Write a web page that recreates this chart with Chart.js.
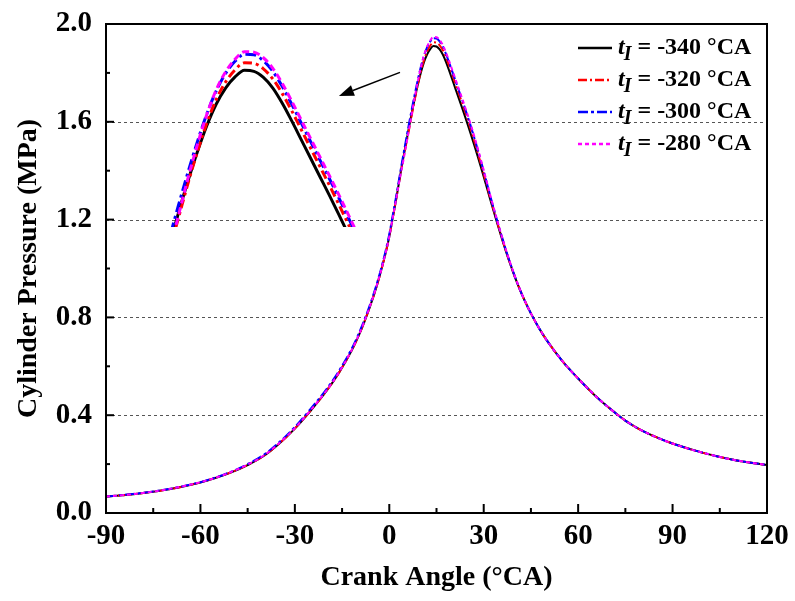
<!DOCTYPE html>
<html><head><meta charset="utf-8">
<script src="https://cdn.jsdelivr.net/npm/chart.js@4.4.0/dist/chart.umd.min.js"></script>
<style>
html,body{margin:0;padding:0;background:#fff;}
#wrap{position:relative;width:795px;height:601px;}
canvas{position:absolute;left:0;top:0;}
</style>
</head><body>
<div id="wrap"><canvas id="main" width="795" height="601"></canvas><canvas id="inset"></canvas></div>
<script>
// ---------------- data ----------------
const crankAngle = [-90,-80,-70,-60,-55,-50,-45,-40,-35,-30,-25,-20,-16,-12,-10,-8,-6,-4,-2,
  0,1,2,3,4,5,6,7,8,9,10,11,12,13,14,15,16,17,18,19,20,21,22,23,24,25,26,27,28,29,30,
  32,34,36,38,40,42,44,46,48,50,55,60,65,70,75,80,85,90,100,110,120];

const p340 = [0.067,0.079,0.097,0.125,0.144,0.167,0.196,0.232,0.283,0.345,0.418,0.498,0.573,0.663,0.717,0.779,0.849,0.928,1.020,
  1.130,1.200,1.270,1.345,1.420,1.490,1.560,1.627,1.690,1.748,1.800,1.843,1.875,1.897,1.910,1.908,1.896,1.875,1.845,1.810,1.773,1.736,1.699,1.662,1.624,1.585,1.545,1.504,1.462,1.419,1.375,
  1.285,1.197,1.113,1.034,0.962,0.898,0.842,0.792,0.747,0.707,0.621,0.550,0.485,0.428,0.378,0.339,0.309,0.284,0.245,0.216,0.196];

const p320 = [0.067,0.079,0.097,0.125,0.145,0.168,0.197,0.233,0.284,0.346,0.419,0.499,0.574,0.664,0.718,0.780,0.850,0.928,1.020,
  1.130,1.200,1.270,1.345,1.420,1.485,1.550,1.617,1.685,1.748,1.805,1.852,1.887,1.911,1.925,1.924,1.913,1.893,1.864,1.830,1.793,1.756,1.719,1.682,1.644,1.605,1.565,1.522,1.478,1.433,1.387,
  1.293,1.202,1.116,1.035,0.962,0.898,0.842,0.792,0.747,0.707,0.621,0.550,0.485,0.428,0.378,0.339,0.309,0.284,0.245,0.216,0.196];

const p300 = [0.067,0.080,0.098,0.126,0.146,0.170,0.200,0.237,0.289,0.352,0.426,0.506,0.581,0.671,0.725,0.787,0.857,0.936,1.029,
  1.140,1.211,1.282,1.357,1.432,1.503,1.574,1.642,1.707,1.768,1.823,1.869,1.904,1.928,1.942,1.941,1.929,1.908,1.878,1.843,1.806,1.769,1.732,1.695,1.657,1.618,1.578,1.535,1.491,1.445,1.398,
  1.301,1.208,1.120,1.038,0.964,0.898,0.842,0.792,0.747,0.707,0.621,0.550,0.485,0.428,0.378,0.339,0.309,0.284,0.245,0.216,0.196];

const p280 = [0.067,0.079,0.098,0.126,0.145,0.169,0.198,0.234,0.285,0.347,0.420,0.500,0.575,0.665,0.719,0.781,0.851,0.930,1.021,
  1.130,1.200,1.270,1.343,1.410,1.478,1.550,1.622,1.695,1.762,1.822,1.871,1.907,1.932,1.947,1.946,1.935,1.914,1.884,1.849,1.812,1.775,1.738,1.701,1.663,1.624,1.584,1.541,1.496,1.449,1.402,
  1.304,1.210,1.121,1.039,0.965,0.899,0.842,0.792,0.747,0.707,0.621,0.550,0.485,0.428,0.378,0.339,0.309,0.284,0.245,0.216,0.196];

const legendLabels = [' = -340 \u00B0CA',' = -320 \u00B0CA',' = -300 \u00B0CA',' = -280 \u00B0CA'];
const xTitle = 'Crank Angle (\u00B0CA)';
const yTitle = 'Cylinder Pressure (MPa)';

// ---------------- style ----------------
const FONT = '"Liberation Serif", "Times New Roman", serif';
const seriesStyle = [
  {data:p340, color:'#000000', dash:[],          insetDash:[]},
  {data:p320, color:'#ff0000', dash:[9,3,2,3],   insetDash:[9,4,3,4]},
  {data:p300, color:'#0000ff', dash:[10,3,3,3],  insetDash:[11,4,3,4]},
  {data:p280, color:'#ff00ff', dash:[4,3],       insetDash:[7,4]}
];
// inset window (data ranges) and its placement in main-chart data coordinates
const INSET_VIEW = {xmin:5.8, xmax:25.8, ymin:1.6, ymax:1.98};
const INSET_PLACE = {x0:-70.5, x1:-10.6, y0:1.170, y1:1.956};
// arrow annotation in main data coordinates
const ARROW = {from:[3.4,1.802], to:[-16.0,1.706]};

function pts(arr){ return crankAngle.map((x,i)=>({x:x,y:arr[i]})); }

Chart.defaults.font.family = FONT;
Chart.defaults.color = '#000';

const framePlugin = {
  id:'frame',
  beforeDatasetsDraw(chart){
    const {ctx, chartArea:a, scales:{y}} = chart;
    ctx.save();
    ctx.strokeStyle = '#555'; ctx.lineWidth = 1; ctx.setLineDash([3,3]);
    [0.4,0.8,1.2,1.6].forEach(v=>{
      const py = Math.round(y.getPixelForValue(v))+0.5;
      ctx.beginPath(); ctx.moveTo(a.left, py); ctx.lineTo(a.right, py); ctx.stroke();
    });
    ctx.restore();
  },
  afterDatasetsDraw(chart){
    const {ctx, chartArea:a, scales:{x,y}} = chart;
    ctx.save();
    ctx.setLineDash([]); ctx.strokeStyle='#000'; ctx.lineWidth=2;
    ctx.strokeRect(a.left, a.top, a.right-a.left, a.bottom-a.top);
    for (let v=-90; v<=120; v+=15){
      const px = x.getPixelForValue(v);
      const len = (v % 30 === 0) ? 9 : 5;
      ctx.beginPath(); ctx.moveTo(px, a.bottom); ctx.lineTo(px, a.bottom-len); ctx.stroke();
    }
    for (let k=0; k<=10; k++){
      const py = y.getPixelForValue(k*0.2);
      const len = (k % 2 === 0) ? 8 : 4;
      ctx.beginPath(); ctx.moveTo(a.left, py); ctx.lineTo(a.left+len, py); ctx.stroke();
    }
    // arrow
    const fx = x.getPixelForValue(ARROW.from[0]), fy = y.getPixelForValue(ARROW.from[1]);
    const tx = x.getPixelForValue(ARROW.to[0]),   ty = y.getPixelForValue(ARROW.to[1]);
    const ang = Math.atan2(ty-fy, tx-fx);
    const hl = 15, hw = 5.5;
    const bx = tx - hl*Math.cos(ang), by = ty - hl*Math.sin(ang);
    ctx.lineWidth = 1.5;
    ctx.beginPath(); ctx.moveTo(fx,fy); ctx.lineTo(bx,by); ctx.stroke();
    ctx.fillStyle='#000';
    ctx.beginPath();
    ctx.moveTo(tx,ty);
    ctx.lineTo(bx + hw*Math.sin(ang), by - hw*Math.cos(ang));
    ctx.lineTo(bx - hw*Math.sin(ang), by + hw*Math.cos(ang));
    ctx.closePath(); ctx.fill();
    // legend
    const lx0 = 578, lx1 = 612, tx0 = 618;
    seriesStyle.forEach((s,i)=>{
      const cy = 46 + i*32;
      ctx.strokeStyle = s.color; ctx.lineWidth = 2.5; ctx.setLineDash(s.dash);
      ctx.beginPath(); ctx.moveTo(lx0, cy+2); ctx.lineTo(lx1, cy+2); ctx.stroke();
      ctx.setLineDash([]);
      ctx.fillStyle = '#000'; ctx.textBaseline='alphabetic'; ctx.textAlign='left';
      const base = cy + 8;
      ctx.font = 'italic bold 24px ' + FONT;
      ctx.fillText('t', tx0, base);
      let cx = tx0 + ctx.measureText('t').width;
      ctx.font = 'italic bold 20px ' + FONT;
      ctx.fillText('I', cx - 1, base + 6);
      cx += ctx.measureText('I').width - 1;
      ctx.font = 'bold 24px ' + FONT;
      ctx.fillText(legendLabels[i], cx, base);
    });
    ctx.restore();
  }
};

function noPad(s){ s.paddingTop = 0; s.paddingBottom = 0; s.paddingLeft = 0; s.paddingRight = 0; }

const mainChart = new Chart(document.getElementById('main'), {
  type:'line',
  data:{ datasets: seriesStyle.map((s,i)=>({
    label: legendLabels[i], data: pts(s.data), borderColor: s.color, borderWidth: 2,
    borderDash: s.dash, pointRadius: 0, cubicInterpolationMode:'monotone', fill:false,
    order: 4-i
  }))},
  options:{
    responsive:false, animation:false, devicePixelRatio:1,
    layout:{padding:{left:0, top:24, right:28, bottom:0}},
    plugins:{legend:{display:false}, tooltip:{enabled:false}},
    scales:{
      x:{type:'linear', min:-90, max:120,
         ticks:{stepSize:30, font:{size:29, weight:'bold'}, color:'#000', padding:6, maxRotation:0, autoSkip:false},
         grid:{display:false, drawTicks:false}, border:{display:false},
         title:{display:true, text:xTitle, font:{size:28, weight:'bold'}, color:'#000', padding:6},
         afterFit(s){ s.height = 88; noPad(s); }},
      y:{type:'linear', min:0, max:2.0,
         ticks:{stepSize:0.4, font:{size:29, weight:'bold'}, color:'#000', padding:14,
                callback:(v)=>Number(v).toFixed(1)},
         grid:{display:false, drawTicks:false}, border:{display:false},
         title:{display:true, text:yTitle, font:{size:28, weight:'bold'}, color:'#000', padding:12},
         afterFit(s){ s.width = 106; noPad(s); }}
    }
  },
  plugins:[framePlugin]
});

// ---------------- inset (magnified peak) ----------------
const sx = mainChart.scales.x, sy = mainChart.scales.y;
const iL = sx.getPixelForValue(INSET_PLACE.x0), iR = sx.getPixelForValue(INSET_PLACE.x1);
const iT = sy.getPixelForValue(INSET_PLACE.y1), iB = sy.getPixelForValue(INSET_PLACE.y0);
const insetCanvas = document.getElementById('inset');
insetCanvas.width = Math.round(iR-iL); insetCanvas.height = Math.round(iB-iT);
insetCanvas.style.left = Math.round(iL)+'px'; insetCanvas.style.top = Math.round(iT)+'px';
insetCanvas.style.width = insetCanvas.width+'px'; insetCanvas.style.height = insetCanvas.height+'px';

new Chart(insetCanvas, {
  type:'line',
  data:{ datasets: seriesStyle.map((s,i)=>({
    data: pts(s.data), borderColor: s.color, borderWidth: 3, borderDash: s.insetDash,
    pointRadius: 0, cubicInterpolationMode:'monotone', fill:false, order:4-i, clip:0
  }))},
  options:{
    responsive:false, animation:false, devicePixelRatio:1,
    layout:{padding:0},
    plugins:{legend:{display:false}, tooltip:{enabled:false}},
    scales:{
      x:{type:'linear', display:false, min:INSET_VIEW.xmin, max:INSET_VIEW.xmax},
      y:{type:'linear', display:false, min:INSET_VIEW.ymin, max:INSET_VIEW.ymax}
    }
  }
});
</script>
</body></html>
